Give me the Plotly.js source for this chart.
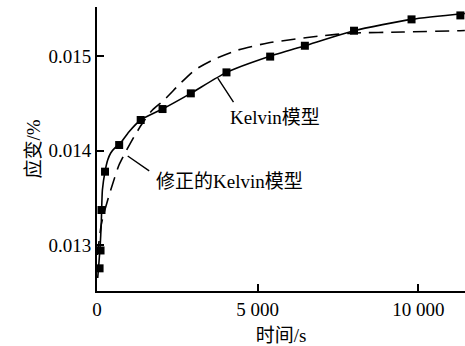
<!DOCTYPE html>
<html>
<head>
<meta charset="utf-8">
<script src="https://cdn.plot.ly/plotly-3.0.1.min.js"></script>
<style>html,body{margin:0;padding:0;background:#fff;}#chart{width:465px;height:346px;}</style>
</head>
<body>
<div id="chart"></div>
<script>
// Measured creep data (time in s, strain in %)
const expTime   = [80, 110, 140, 250, 690, 1360, 2040, 2920, 4030, 5390, 6470, 8000, 9790, 11310];
const expStrain = [0.012753, 0.012942, 0.01337, 0.013776, 0.014058, 0.014323, 0.014439, 0.014605, 0.014827, 0.014994, 0.015109, 0.015268, 0.015388, 0.01543];

// Solid curve ("Kelvin模型")
const kelvinTime   = [22, 62, 100, 131, 168, 249, 333, 427, 551, 685, 997, 1361, 2037, 2919, 4031, 5358, 6470, 7996, 9793, 11450];
const kelvinStrain = [0.012651, 0.01282, 0.013, 0.013212, 0.013582, 0.013776, 0.013899, 0.013974, 0.014026, 0.014058, 0.014199, 0.014323, 0.014439, 0.014605, 0.014827, 0.014995, 0.015109, 0.015268, 0.015388, 0.01545];

// Dashed curve ("修正的Kelvin模型")
const modTime   = [6, 69, 131, 218, 427, 685, 894, 1153, 1414, 1726, 2087, 2576, 3043, 3666, 4382, 5317, 6937, 7964, 9522, 11297, 11450];
const modStrain = [0.012894, 0.013053, 0.013212, 0.013339, 0.013582, 0.013847, 0.013987, 0.014146, 0.014288, 0.014429, 0.014534, 0.014704, 0.014852, 0.014968, 0.015063, 0.015138, 0.015212, 0.015243, 0.015254, 0.015268, 0.01527];

// Tick labels
const xTickVals = [0, 5000, 10000];
const xTickText = ['0', '5 000', '10 000'];
const yTickVals = [0.013, 0.014, 0.015];
const yTickText = ['0.013', '0.014', '0.015'];

const labelKelvin = 'Kelvin模型';
const labelMod = '修正的Kelvin模型';
const xTitle = '时间/s';
const yTitle = '应变/%';

const FONT = "'Liberation Serif', 'Noto Sans CJK SC', serif";

const traces = [
  {
    x: kelvinTime, y: kelvinStrain, type: 'scatter', mode: 'lines', name: labelKelvin,
    line: {color: '#000', width: 1.6, shape: 'spline', smoothing: 0.6},
    hoverinfo: 'skip'
  },
  {
    x: modTime, y: modStrain, type: 'scatter', mode: 'lines', name: labelMod,
    line: {color: '#000', width: 1.6, dash: '14px,8px', shape: 'spline', smoothing: 0.6},
    hoverinfo: 'skip'
  },
  {
    x: expTime, y: expStrain, type: 'scatter', mode: 'markers', name: '试验数据',
    marker: {symbol: 'square', size: 8, color: '#000'}
  }
];

const layout = {
  width: 465, height: 346,
  margin: {l: 97, r: 0, t: 7, b: 55},
  paper_bgcolor: '#fff', plot_bgcolor: '#fff',
  showlegend: false,
  font: {family: FONT, size: 19, color: '#000'},
  xaxis: {
    range: [0, 11454],
    tickvals: xTickVals, ticktext: xTickText,
    ticks: 'inside', ticklen: 7, tickwidth: 2, tickcolor: '#000',
    showline: true, linewidth: 2, linecolor: '#000',
    showgrid: false, zeroline: false, mirror: false,
    tickfont: {family: FONT, size: 19, color: '#000'},
    title: {text: xTitle, font: {family: FONT, size: 19, color: '#000'}, standoff: 20}
  },
  yaxis: {
    range: [0.012513, 0.015519],
    tickvals: yTickVals, ticktext: yTickText,
    ticks: 'inside', ticklen: 7, tickwidth: 2, tickcolor: '#000',
    showline: true, linewidth: 2, linecolor: '#000',
    showgrid: false, zeroline: false, mirror: false,
    tickfont: {family: FONT, size: 19, color: '#000'},
    title: {text: yTitle, font: {family: FONT, size: 19, color: '#000'}, standoff: 3}
  },
  annotations: [
    {x: 5535, y: 0.014354, xref: 'x', yref: 'y', text: labelKelvin, showarrow: false,
     font: {family: FONT, size: 19, color: '#000'}},
    {x: 4134, y: 0.013667, xref: 'x', yref: 'y', text: labelMod, showarrow: false,
     font: {family: FONT, size: 19, color: '#000'}},
    {x: 3760, y: 0.014767, xref: 'x', yref: 'y', text: ' ', showarrow: true, arrowhead: 0,
     arrowwidth: 1.4, arrowcolor: '#000', ax: 17, ay: 26, font: {size: 1}, standoff: 0},
    {x: 956, y: 0.013942, xref: 'x', yref: 'y', text: ' ', showarrow: true, arrowhead: 0,
     arrowwidth: 1.4, arrowcolor: '#000', ax: 23, ay: 16, font: {size: 1}, standoff: 0}
  ]
};

Plotly.newPlot('chart', traces, layout, {staticPlot: true, displayModeBar: false});
</script>
</body>
</html>
